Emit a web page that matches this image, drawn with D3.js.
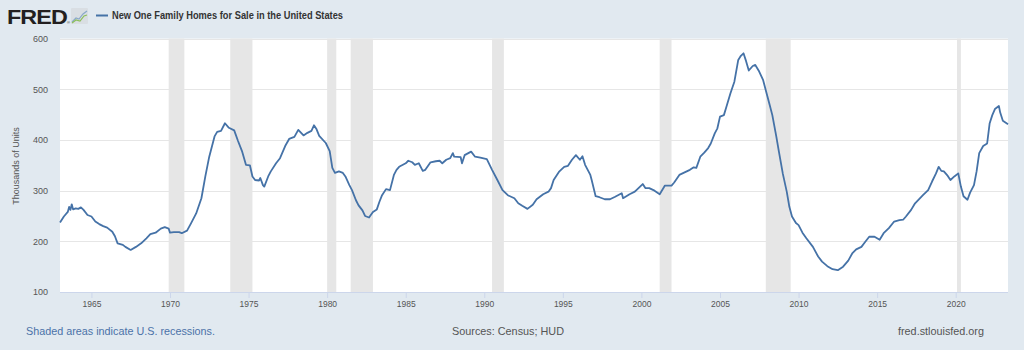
<!DOCTYPE html>
<html>
<head>
<meta charset="utf-8">
<script src="https://cdn.jsdelivr.net/npm/d3@7"></script>
<style>
  html, body { margin: 0; padding: 0; background: #e1e9f0; }
  svg { display: block; font-family: "Liberation Sans", Arial, sans-serif; }
</style>
</head>
<body>
<svg id="chart" width="1024" height="350"></svg>
<script>
// ---- data ----
const dates = [
"1963-01","1963-04","1963-07","1963-08","1963-09","1963-10","1963-11","1964-01","1964-03","1964-05",
"1964-07","1964-10","1965-01","1965-04","1965-07","1965-10","1966-01","1966-05","1966-07","1966-09",
"1967-01","1967-03","1967-07","1967-11","1968-03","1968-07","1968-10","1969-02","1969-06","1969-09",
"1969-12","1970-01","1970-04","1970-08","1970-10","1971-02","1971-05","1971-09","1972-01","1972-04",
"1972-07","1972-11","1973-01","1973-04","1973-07","1973-10","1974-02","1974-05","1974-08","1974-11",
"1975-02","1975-04","1975-06","1975-09","1975-10","1975-12","1976-01","1976-04","1976-06","1976-10",
"1977-01","1977-05","1977-08","1977-12","1978-03","1978-07","1978-10","1979-01","1979-03","1979-05",
"1979-07","1979-12","1980-03","1980-05","1980-07","1980-10","1981-01","1981-03","1981-06","1981-08",
"1981-11","1982-01","1982-04","1982-06","1982-09","1982-12","1983-03","1983-05","1983-07","1983-10",
"1984-01","1984-04","1984-06","1984-08","1985-01","1985-03","1985-06","1985-08","1985-11","1986-02",
"1986-04","1986-08","1986-12","1987-03","1987-05","1987-08","1987-11","1988-01","1988-02","1988-07",
"1988-08","1988-10","1989-03","1989-06","1989-10","1990-03","1990-07","1990-11","1991-03","1991-07",
"1991-12","1992-03","1992-06","1992-10","1993-02","1993-05","1993-10","1994-02","1994-04","1994-06",
"1994-10","1995-02","1995-05","1995-08","1995-11","1996-02","1996-04","1996-06","1996-10","1996-11",
"1997-02","1997-05","1997-09","1998-01","1998-05","1998-10","1998-11","1999-04","1999-08","1999-12",
"2000-02","2000-04","2000-07","2000-11","2001-03","2001-07","2001-12","2002-02","2002-06","2002-10",
"2003-02","2003-05","2003-07","2003-10","2004-01","2004-04","2004-06","2004-09","2004-11","2005-01",
"2005-04","2005-06","2005-09","2005-12","2006-03","2006-05","2006-07","2006-09","2006-11","2007-02",
"2007-04","2007-07","2007-10","2007-12","2008-03","2008-05","2008-08","2008-10","2009-01","2009-04",
"2009-06","2009-08","2009-11","2010-01","2010-04","2010-07","2010-12","2011-04","2011-07","2011-11",
"2012-03","2012-07","2012-11","2013-03","2013-06","2013-09","2014-01","2014-04","2014-07","2014-11",
"2015-03","2015-06","2015-10","2016-02","2016-06","2016-09","2016-11","2017-03","2017-06","2017-12",
"2018-04","2018-07","2018-10","2018-12","2019-02","2019-04","2019-07","2019-09","2019-12","2020-03",
"2020-05","2020-07","2020-10","2020-12","2021-03","2021-05","2021-07","2021-10","2022-01","2022-03",
"2022-05","2022-07","2022-10","2022-11","2023-01","2023-05"
];
const values = [
237,249,258,268,262,273,263,265,264,267,
262,252,249,239,234,230,227,219,210,196,
193,189,183,189,196,206,214,217,225,228,
225,217,218,218,216,221,235,255,285,328,
367,407,416,418,433,424,419,398,378,351,
350,328,321,320,325,311,308,328,338,354,
364,388,402,406,420,409,414,418,429,421,
408,394,378,345,335,338,335,328,311,301,
281,271,261,250,247,258,263,278,291,303,
301,331,341,347,354,359,356,351,354,339,
341,356,358,359,354,361,364,374,367,366,
354,370,377,367,365,362,341,321,301,291,
285,275,270,264,272,283,293,298,305,321,
337,347,349,361,370,361,368,351,331,321,
289,287,283,283,288,295,285,293,298,308,
313,305,305,300,293,310,310,316,331,336,
341,346,345,367,375,384,393,413,423,446,
449,466,492,515,558,566,571,555,537,546,
548,535,518,498,469,449,407,377,333,298,
268,249,236,232,217,206,189,170,160,151,
145,143,150,162,176,184,189,199,209,209,
203,216,226,239,242,243,249,262,275,291,
301,318,334,347,339,338,329,321,328,334,
308,289,282,296,311,338,374,388,393,433,
449,461,467,454,438,431
];
const recessionStarts = ["1969-12","1973-11","1980-01","1981-07","1990-07","2001-03","2007-12","2020-02"];
const recessionEnds   = ["1970-11","1975-03","1980-07","1982-11","1991-03","2001-11","2009-06","2020-04"];
const yTickValues = [100, 200, 300, 400, 500, 600];
const xTickYears = [1965, 1970, 1975, 1980, 1985, 1990, 1995, 2000, 2005, 2010, 2015, 2020];
const seriesTitle = "New One Family Homes for Sale in the United States";
const yAxisTitle = "Thousands of Units";

// ---- setup ----
const parseMonth = d3.timeParse("%Y-%m");
const series = dates.map((d, i) => ({ date: parseMonth(d), value: values[i] }));

const svg = d3.select("#chart");
const plot = { left: 60, right: 1008, top: 38.6, bottom: 292 };

const x = d3.scaleTime()
  .domain([parseMonth("1963-01"), parseMonth("2023-05")])
  .range([plot.left, plot.right]);
const y = d3.scaleLinear().domain([100, 600]).range([plot.bottom, plot.top]);

// background
svg.append("rect").attr("width", 1024).attr("height", 350).attr("fill", "#e1e9f0");
svg.append("rect")
  .attr("x", plot.left).attr("y", plot.top)
  .attr("width", plot.right - plot.left).attr("height", plot.bottom - plot.top)
  .attr("fill", "#ffffff");

// recession bands
svg.append("g").selectAll("rect")
  .data(recessionStarts.map((s, i) => ({ s: parseMonth(s), e: d3.timeMonth.offset(parseMonth(recessionEnds[i]), 1) })))
  .join("rect")
  .attr("x", d => x(d.s))
  .attr("width", d => Math.max(1, x(d.e) - x(d.s)))
  .attr("y", plot.top)
  .attr("height", plot.bottom - plot.top)
  .attr("fill", "#e6e6e6");

// gridlines
svg.append("g").selectAll("line")
  .data(yTickValues.filter(v => v > 100))
  .join("line")
  .attr("x1", plot.left).attr("x2", plot.right)
  .attr("y1", d => Math.round(y(d)) + 0.5).attr("y2", d => Math.round(y(d)) + 0.5)
  .attr("stroke", "#e6e6e6").attr("stroke-width", 1);

// y axis labels
const yAxis = svg.append("g")
  .attr("transform", `translate(${plot.left},0)`)
  .call(d3.axisLeft(y).tickValues(yTickValues).tickSize(0).tickPadding(12));
yAxis.select(".domain").remove();
yAxis.selectAll("text")
  .attr("fill", "#555").attr("font-size", "9px")
  .attr("font-family", "'Liberation Sans', Arial, sans-serif");

// x axis
const xAxis = svg.append("g")
  .attr("transform", `translate(0,${plot.bottom})`)
  .call(d3.axisBottom(x)
    .tickValues(xTickYears.map(yr => new Date(yr, 0, 1)))
    .tickFormat(d3.timeFormat("%Y"))
    .tickSize(6).tickPadding(3));
xAxis.select(".domain").attr("stroke", "#ccd6eb").attr("d", `M${plot.left},0.5H${plot.right}`);
xAxis.selectAll(".tick line").attr("stroke", "#ccd6eb");
xAxis.selectAll("text")
  .attr("fill", "#555").attr("font-size", "8.5px")
  .attr("font-family", "'Liberation Sans', Arial, sans-serif");

// line
svg.append("path")
  .datum(series)
  .attr("fill", "none")
  .attr("stroke", "#4572a7")
  .attr("stroke-width", 1.8)
  .attr("stroke-linejoin", "round")
  .attr("d", d3.line().x(d => x(d.date)).y(d => y(d.value)));

// y axis title
svg.append("text")
  .attr("transform", "translate(19,166) rotate(-90)")
  .attr("text-anchor", "middle")
  .attr("font-size", "9px")
  .attr("fill", "#555")
  .text(yAxisTitle);

// header: FRED logo
svg.append("text")
  .attr("x", 7).attr("y", 24)
  .attr("font-size", "21px").attr("font-weight", "bold")
  .attr("fill", "#231f20")
  .attr("letter-spacing", "-0.8")
  .attr("textLength", 60).attr("lengthAdjust", "spacingAndGlyphs")
  .text("FRED");
svg.append("text")
  .attr("x", 67).attr("y", 24)
  .attr("font-size", "4px").attr("fill", "#231f20")
  .text("®");
const icon = svg.append("g").attr("transform", "translate(71,8)");
icon.append("rect").attr("width", 17).attr("height", 16).attr("fill", "#d9dee3").attr("rx", 1);
icon.append("path").attr("d", "M1,14 L5,10 L8,11 L12,6 L16,3").attr("fill", "none").attr("stroke", "#8aa9c9").attr("stroke-width", 1.2);
icon.append("path").attr("d", "M1,15 L5,12 L9,13 L13,8 L16,7").attr("fill", "none").attr("stroke", "#8bbf5a").attr("stroke-width", 1.2);

// legend
svg.append("line")
  .attr("x1", 96).attr("x2", 108).attr("y1", 15.5).attr("y2", 15.5)
  .attr("stroke", "#4572a7").attr("stroke-width", 2);
svg.append("text")
  .attr("x", 112).attr("y", 19.3)
  .attr("font-size", "10px").attr("font-weight", "bold")
  .attr("fill", "#333")
  .attr("textLength", 231).attr("lengthAdjust", "spacingAndGlyphs")
  .text(seriesTitle);

// footer
svg.append("text")
  .attr("x", 26).attr("y", 335)
  .attr("font-size", "11.5px").attr("fill", "#4b72a8")
  .attr("textLength", 189).attr("lengthAdjust", "spacingAndGlyphs")
  .text("Shaded areas indicate U.S. recessions.");
svg.append("text")
  .attr("x", 452).attr("y", 335)
  .attr("font-size", "11.5px").attr("fill", "#555")
  .attr("textLength", 112).attr("lengthAdjust", "spacingAndGlyphs")
  .text("Sources: Census; HUD");
svg.append("text")
  .attr("x", 898).attr("y", 335)
  .attr("font-size", "11.5px").attr("fill", "#555")
  .attr("textLength", 86).attr("lengthAdjust", "spacingAndGlyphs")
  .text("fred.stlouisfed.org");
</script>
</body>
</html>
